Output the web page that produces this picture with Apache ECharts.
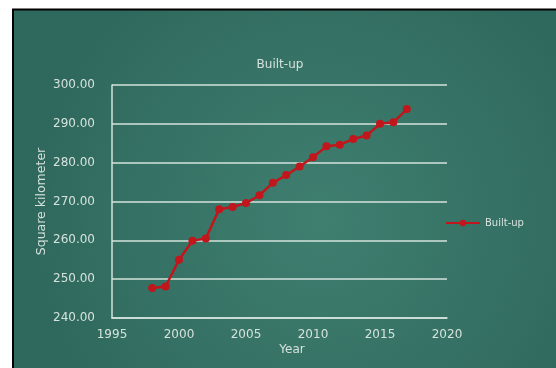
<!DOCTYPE html>
<html>
<head>
<meta charset="utf-8">
<script src="https://cdn.jsdelivr.net/npm/echarts@6/dist/echarts.min.js"></script>
<style>
  html, body { margin: 0; padding: 0; background: #ffffff; }
  #chart { width: 556px; height: 368px; }
</style>
</head>
<body>
<div id="chart"></div>
<script>
var years = [1998, 1999, 2000, 2001, 2002, 2003, 2004, 2005, 2006, 2007, 2008, 2009, 2010, 2011, 2012, 2013, 2014, 2015, 2016, 2017];
var builtUp = [247.7, 248.1, 255.0, 259.9, 260.5, 268.0, 268.6, 269.6, 271.6, 274.8, 276.8, 279.0, 281.4, 284.2, 284.6, 286.1, 287.0, 290.0, 290.4, 293.8];
var seriesName = 'Built-up';
var chartTitle = 'Built-up';
var yAxisName = 'Square kilometer';
var xAxisName = 'Year';

var textColor = '#d6e2dd';
var fontFamily = 'DejaVu Sans';

var chart = echarts.init(document.getElementById('chart'), null, { renderer: 'canvas' });
chart.setOption({
  backgroundColor: '#ffffff',
  animation: false,
  graphic: [{
    type: 'rect',
    z: -10,
    shape: { x: 13, y: 9.5, width: 560, height: 380 },
    style: {
      fill: {
        type: 'radial', x: 0.55, y: 0.55, r: 0.75,
        colorStops: [{ offset: 0, color: '#3f7f70' }, { offset: 1, color: '#2f695d' }]
      },
      stroke: '#000000',
      lineWidth: 2
    }
  }],
  title: {
    text: chartTitle,
    left: 275,
    top: 54,
    textAlign: 'center',
    textStyle: { color: textColor, fontFamily: fontFamily, fontSize: 12, fontWeight: 'normal' }
  },
  legend: {
    data: [seriesName],
    orient: 'vertical',
    left: 440,
    top: 213,
    itemWidth: 34,
    itemHeight: 8,
    itemGap: 4,
    textStyle: { color: textColor, fontFamily: fontFamily, fontSize: 10 }
  },
  grid: { left: 112, right: 109, top: 85, bottom: 50, containLabel: false },
  xAxis: {
    type: 'value',
    min: 1995,
    max: 2020,
    interval: 5,
    name: xAxisName,
    nameLocation: 'middle',
    nameGap: 26,
    nameMoveOverlap: false,
    nameTextStyle: { color: textColor, fontFamily: fontFamily, fontSize: 12, padding: [0, 0, 0, 25] },
    axisLine: { show: true, lineStyle: { color: '#d5e3dd', width: 1.5 } },
    axisTick: { show: false },
    splitLine: { show: false },
    axisLabel: {
      color: textColor, fontFamily: fontFamily, fontSize: 12, margin: 11,
      formatter: function (v) { return String(v); }
    }
  },
  yAxis: {
    type: 'value',
    min: 240,
    max: 300,
    interval: 10,
    name: yAxisName,
    nameLocation: 'middle',
    nameGap: 64,
    nameMoveOverlap: false,
    nameTextStyle: { color: textColor, fontFamily: fontFamily, fontSize: 12.5 },
    axisLine: { show: true, lineStyle: { color: '#d5e3dd', width: 1.5 } },
    axisTick: { show: false },
    splitLine: { show: true, lineStyle: { color: '#d5e3dd', width: 1.5 } },
    axisLabel: {
      color: textColor, fontFamily: fontFamily, fontSize: 12, margin: 17,
      formatter: function (v) { return v.toFixed(2); }
    }
  },
  series: [{
    name: seriesName,
    type: 'line',
    data: years.map(function (y, i) { return [y, builtUp[i]]; }),
    symbol: 'circle',
    symbolSize: 8,
    itemStyle: { color: '#c0161c' },
    lineStyle: { color: '#c0161c', width: 2.5 }
  }]
});
</script>
</body>
</html>
